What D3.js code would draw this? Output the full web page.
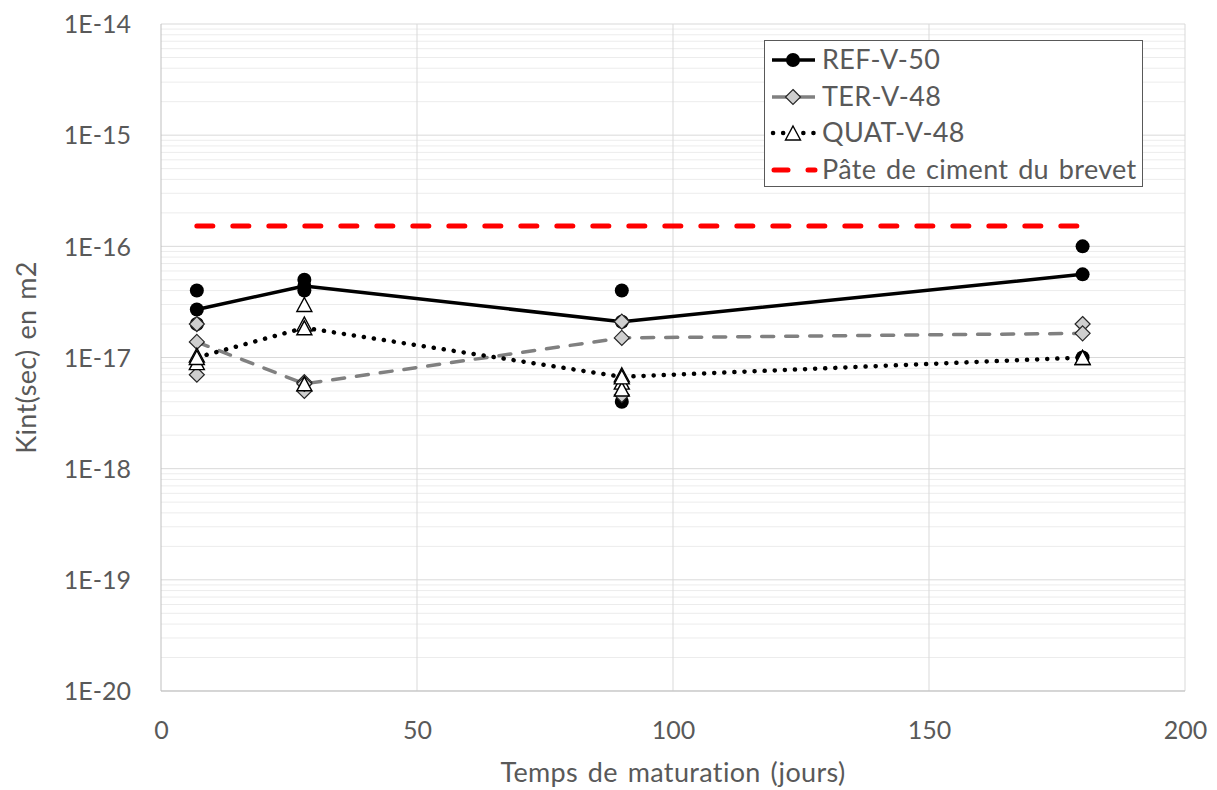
<!DOCTYPE html>
<html><head><meta charset="utf-8">
<script src="https://cdn.jsdelivr.net/npm/d3@7"></script>
<style>
body{margin:0;background:#fff}
text{font-family:Lato,"Open Sans",sans-serif;fill:#595959}
.wide{letter-spacing:0.35px;word-spacing:2.5px}
</style>
</head><body>
<svg id="chart" width="1217" height="790"></svg>
<script>
// ---- data ----
const days = [7, 28, 90, 180];
const refMean  = [2.7e-17, 4.4e-17, 2.1e-17, 5.6e-17];
const refPtsX  = [7, 7, 28, 28, 90, 90, 180, 180];
const refPtsY  = [4e-17, 2e-17, 5e-17, 4e-17, 4e-17, 4e-18, 1e-16, 1e-17];
const terMean  = [1.38e-17, 5.8e-18, 1.5e-17, 1.65e-17];
const terPtsX  = [7, 7, 28, 28, 90, 90, 180];
const terPtsY  = [2e-17, 7e-18, 6e-18, 5e-18, 2.1e-17, 4.6e-18, 2e-17];
const quatMean = [1.0e-17, 1.85e-17, 6.7e-18, 1.0e-17];
const quatPtsX = [7, 7, 28, 28, 28, 90, 90, 90, 180];
const quatPtsY = [1.05e-17, 9e-18, 3e-17, 2e-17, 5.8e-18, 7e-18, 6e-18, 5.2e-18, 1e-17];
const brevetX  = [7, 180];
const brevetY  = [1.52e-16, 1.52e-16];
const seriesNames = ["REF-V-50", "TER-V-48", "QUAT-V-48", "Pâte de ciment du brevet"];
const xTicks = [0, 50, 100, 150, 200];
const yTicks = [1e-20, 1e-19, 1e-18, 1e-17, 1e-16, 1e-15, 1e-14];
const yTickLabels = ["1E-20", "1E-19", "1E-18", "1E-17", "1E-16", "1E-15", "1E-14"];
const xTitle = "Temps de maturation (jours)";
const yTitle = "Kint(sec) en m2";

// ---- layout ----
const svg = d3.select("#chart");
const L = 161, R = 1185, T = 24, B = 691;
const x = d3.scaleLinear().domain([0, 200]).range([L, R]);
const y = d3.scaleLog().domain([1e-20, 1e-14]).range([B, T]);

// minor gridlines
const minor = [];
for (let e = -20; e < -14; e++) for (let m = 2; m <= 9; m++) minor.push(m * Math.pow(10, e));
svg.append("g").selectAll("line").data(minor).join("line")
  .attr("x1", L).attr("x2", R).attr("y1", d => y(d)).attr("y2", d => y(d))
  .attr("stroke", "#ececec").attr("stroke-width", 1);
// major gridlines
svg.append("g").selectAll("line").data(yTicks).join("line")
  .attr("x1", L).attr("x2", R).attr("y1", d => y(d)).attr("y2", d => y(d))
  .attr("stroke", "#d9d9d9").attr("stroke-width", 1);
svg.append("g").selectAll("line").data(xTicks.slice(1)).join("line")
  .attr("x1", d => x(d)).attr("x2", d => x(d)).attr("y1", T).attr("y2", B)
  .attr("stroke", "#d9d9d9").attr("stroke-width", 1);
// axes lines
svg.append("line").attr("x1", L).attr("x2", L).attr("y1", T).attr("y2", B).attr("stroke", "#bfbfbf");
svg.append("line").attr("x1", L).attr("x2", R).attr("y1", B).attr("y2", B).attr("stroke", "#bfbfbf");

// tick labels
const yAxis = d3.axisLeft(y).tickValues(yTicks).tickSize(0).tickPadding(0)
  .tickFormat((d, i) => yTickLabels[i]);
const gy = svg.append("g").attr("transform", `translate(${L - 30},0)`).call(yAxis);
gy.select(".domain").remove();
gy.selectAll("text").attr("font-size", 25).attr("fill", "#595959").attr("font-family", "Lato").attr("dy", "0.35em");

const xAxis = d3.axisBottom(x).tickValues(xTicks).tickSize(0).tickPadding(0).tickFormat(d3.format("d"));
const gx = svg.append("g").attr("transform", `translate(0,${B + 30})`).call(xAxis);
gx.select(".domain").remove();
gx.selectAll("text").attr("font-size", 25).attr("fill", "#595959").attr("font-family", "Lato").attr("dy", "0.7em");

// axis titles
svg.append("text").attr("class", "wide").attr("x", (L + R) / 2).attr("y", 782).attr("text-anchor", "middle")
  .attr("font-size", 27).text(xTitle);
svg.append("text").attr("class", "wide").attr("transform", `translate(36,${(T + B) / 2}) rotate(-90)`)
  .attr("text-anchor", "middle").attr("font-size", 27).text(yTitle);

// markers
const diamond = s => `M0,${-s}L${s},0L0,${s}L${-s},0Z`;
const tri = (w, h) => `M0,${-h / 2}L${w / 2},${h / 2}L${-w / 2},${h / 2}Z`;
function drawMarker(g, kind, cx, cy) {
  if (kind === "circle") g.append("circle").attr("cx", cx).attr("cy", cy).attr("r", 7).attr("fill", "#000");
  else if (kind === "diamond") g.append("path").attr("d", diamond(7.5)).attr("transform", `translate(${cx},${cy})`)
    .attr("fill", "#cfcfcf").attr("stroke", "#262626").attr("stroke-width", 1.2);
  else g.append("path").attr("d", tri(15, 14)).attr("transform", `translate(${cx},${cy})`)
    .attr("fill", "#fff").attr("stroke", "#000").attr("stroke-width", 1.4);
}

const line = d3.line().x(d => x(d[0])).y(d => y(d[1]));
const series = [
  {mean: refMean, px: refPtsX, py: refPtsY, stroke: "#000", w: 3.5, dash: null, cap: "round", marker: "circle"},
  {mean: terMean, px: terPtsX, py: terPtsY, stroke: "#808080", w: 3.5, dash: "12,12", cap: "round", marker: "diamond"},
  {mean: quatMean, px: quatPtsX, py: quatPtsY, stroke: "#000", w: 4.5, dash: "0.1,10", cap: "round", marker: "triangle"}
];
series.forEach(s => {
  const g = svg.append("g");
  g.append("path").datum(days.map((d, i) => [d, s.mean[i]])).attr("d", line)
    .attr("fill", "none").attr("stroke", s.stroke).attr("stroke-width", s.w)
    .attr("stroke-dasharray", s.dash).attr("stroke-linecap", s.cap).attr("stroke-linejoin", "round");
  s.px.forEach((d, i) => drawMarker(g, s.marker, x(d), y(s.py[i])));
  days.forEach((d, i) => drawMarker(g, s.marker, x(d), y(s.mean[i])));
});
// brevet red dashed
svg.append("path").datum(brevetX.map((d, i) => [d, brevetY[i]])).attr("d", line)
  .attr("fill", "none").attr("stroke", "#ff0000").attr("stroke-width", 5)
  .attr("stroke-dasharray", "16,20").attr("stroke-linecap", "round");

// legend
const lg = svg.append("g");
lg.append("rect").attr("x", 764.5).attr("y", 40.5).attr("width", 378).attr("height", 146)
  .attr("fill", "#fff").attr("stroke", "#595959").attr("stroke-width", 1);
const rows = [60, 97, 133, 170];
const lx1 = 772, lx2 = 815, lmx = 793;
lg.append("line").attr("x1", lx1).attr("x2", lx2).attr("y1", rows[0]).attr("y2", rows[0]).attr("stroke", "#000").attr("stroke-width", 3.5);
drawMarker(lg, "circle", lmx, rows[0]);
lg.append("line").attr("x1", lx1).attr("x2", lx2).attr("y1", rows[1]).attr("y2", rows[1]).attr("stroke", "#808080").attr("stroke-width", 3.5);
drawMarker(lg, "diamond", lmx, rows[1]);
lg.append("line").attr("x1", lx1 + 1).attr("x2", lx2).attr("y1", rows[2]).attr("y2", rows[2]).attr("stroke", "#000").attr("stroke-width", 4.5)
  .attr("stroke-dasharray", "0.1,10").attr("stroke-linecap", "round");
drawMarker(lg, "triangle", lmx, rows[2]);
lg.append("line").attr("x1", lx1 + 2).attr("x2", lx2).attr("y1", rows[3]).attr("y2", rows[3]).attr("stroke", "#ff0000").attr("stroke-width", 5)
  .attr("stroke-dasharray", "14,20").attr("stroke-linecap", "round");
lg.selectAll("text.lab").data(seriesNames).join("text").attr("class", "lab wide")
  .attr("x", 822).attr("y", (d, i) => rows[i]).attr("dy", "0.35em").attr("font-size", 27).text(d => d);
</script>
</body></html>
